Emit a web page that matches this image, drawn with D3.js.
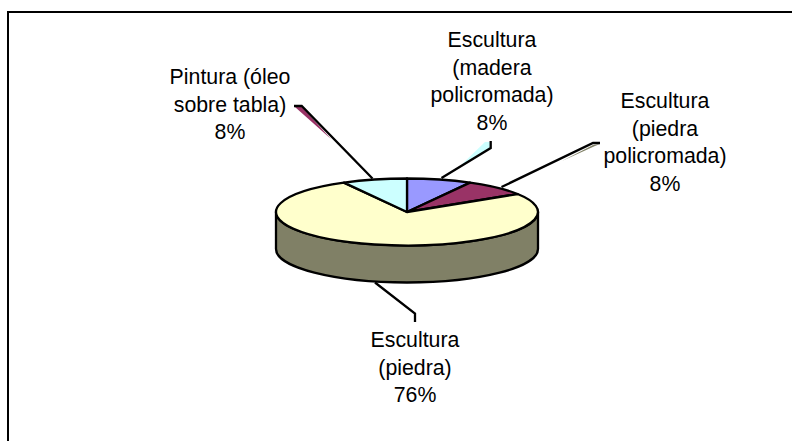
<!DOCTYPE html>
<html><head><meta charset="utf-8">
<script src="https://cdn.jsdelivr.net/npm/d3@7"></script>
<style>html,body{margin:0;padding:0;background:#fff}svg{display:block}text{font-family:"Liberation Sans",Arial,sans-serif;font-size:21.3px;fill:#000;text-anchor:middle}</style>
</head><body><svg id="c" width="792" height="441"></svg>
<script>
const categories = ["Escultura (madera policromada)","Escultura (piedra policromada)","Escultura (piedra)","Pintura (óleo sobre tabla)"];
const values = [8,8,76,8];
const colors = ["#9999FF","#993366","#FFFFCC","#CCFFFF"];
const labelLines = [["Escultura","(madera","policromada)","8%"],["Escultura","(piedra","policromada)","8%"],["Escultura","(piedra)","76%"],["Pintura (óleo","sobre tabla)","8%"]];

const W=792,H=441,cx=407,cy=212,rx=131,ry=33.5,depth=37;
const labelPos=[{x:492,y:47},{x:665,y:108},{x:415,y:347},{x:230,y:84}];
const lineH=27.5;
const leaders=[
 [[441.5,178],[490.7,148],[490.7,141]],
 [[501.5,187],[593,143],[600,143]],
 [[375,282.5],[415,313.5],[415,322]],
 [[372.5,178.5],[301.7,106],[294,106]]];
const slivers=[
 [[458,168],[485,142],[490,142],[490,148]],
 [[562,161],[593,145],[600,144],[595,146]],
 null,
 [[295,107],[302,107],[331,139]]];
const sliverCol=["#CCFFFF","#808066",null,"#993366"];

const svg=d3.select("#c");
svg.append("path").attr("d",`M${W},12H8V${H}`).attr("fill","none").attr("stroke","#000").attr("stroke-width",2);

const pie=d3.pie().sort(null).startAngle(0).endAngle(2*Math.PI)(values);
const arc=d3.arc().innerRadius(0).outerRadius(rx);

leaders.forEach((p,i)=>{
 if(slivers[i]) svg.append("polygon").attr("points",slivers[i].join(" ")).attr("fill",sliverCol[i]);
 svg.append("path").attr("d",d3.line()(p)).attr("fill","none").attr("stroke","#000").attr("stroke-width",2.3);
});

svg.append("path")
 .attr("d",`M${cx-rx},${cy}A${rx},${ry} 0 0 0 ${cx+rx},${cy}V${cy+depth}A${rx},${ry} 0 0 1 ${cx-rx},${cy+depth}Z`)
 .attr("fill","#808066").attr("stroke","#000").attr("stroke-width",2.3).attr("stroke-linejoin","round");

const g=svg.append("g").attr("transform",`translate(${cx},${cy}) scale(1,${ry/rx})`);
g.selectAll("path").data(pie).join("path")
 .attr("d",arc).attr("fill",(d,i)=>colors[i])
 .attr("stroke","#000").attr("stroke-width",2.3).attr("stroke-linejoin","round")
 .attr("vector-effect","non-scaling-stroke");

labelLines.forEach((ls,i)=>{
 const t=svg.append("text").attr("aria-label",categories[i]);
 ls.forEach((l,j)=>t.append("tspan").attr("x",labelPos[i].x).attr("y",labelPos[i].y+j*lineH).text(l));
});
</script></body></html>
